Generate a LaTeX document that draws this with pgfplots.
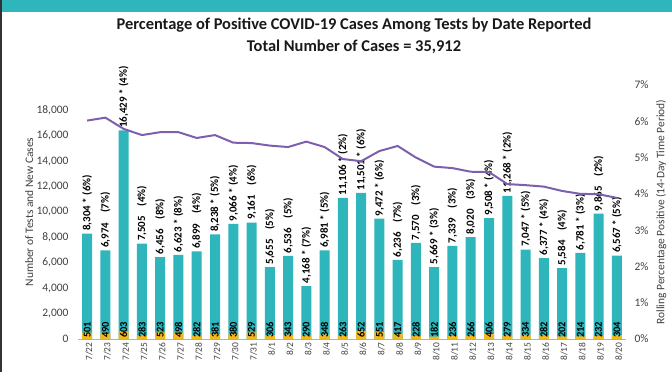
\documentclass[border=0pt]{standalone}
\usepackage{fontspec}
\setmainfont{Carlito}
\usepackage{pgfplots}
\pgfplotsset{compat=1.18}
\usepackage{pgfplotstable}
\pgfplotsset{/pgf/number format/assume math mode=true}

\definecolor{teal1}{HTML}{2FB5BC}
\definecolor{gold1}{HTML}{F4B71E}
\definecolor{purp}{HTML}{7E5FAE}
\definecolor{txt}{HTML}{404040}

\newcommand{\gap}{\hspace{0.9em}}

\pgfplotstableread[col sep=semicolon, row sep=\\]{
x;tests;new;pct;lab\\
0;8304;501;6.02;8,304 * (6\%)\\
1;6974;490;6.10;6,974\gap(7\%)\\
2;16429;603;5.79;16,429 * (4\%)\\
3;7505;283;5.62;7,505\gap(4\%)\\
4;6456;523;5.70;6,456\gap(8\%)\\
5;6623;498;5.70;6,623 * (8\%)\\
6;6899;282;5.54;6,899\gap(4\%)\\
7;8238;381;5.62;8,238 * (5\%)\\
8;9066;380;5.41;9,066 * (4\%)\\
9;9161;529;5.40;9,161\gap(6\%)\\
10;5655;306;5.33;5,655\gap(5\%)\\
11;6536;343;5.29;6,536\gap(5\%)\\
12;4168;290;5.44;4,168 * (7\%)\\
13;6981;348;5.29;6,981 * (5\%)\\
14;11106;263;4.96;11,106 * (2\%)\\
15;11501;652;4.90;11,501 * (6\%)\\
16;9472;551;5.18;9,472 * (6\%)\\
17;6236;417;5.32;6,236\gap(7\%)\\
18;7570;228;5.00;7,570\gap(3\%)\\
19;5669;182;4.75;5,669 * (3\%)\\
20;7339;236;4.71;7,339\gap(3\%)\\
21;8020;266;4.61;8,020\gap(3\%)\\
22;9508;406;4.60;9,508 * (4\%)\\
23;11268;279;4.27;11,268 * (2\%)\\
24;7047;334;4.24;7,047 * (5\%)\\
25;6377;282;4.20;6,377 * (4\%)\\
26;5584;202;4.08;5,584\gap(4\%)\\
27;6781;214;4.00;6,781 * (3\%)\\
28;9865;232;3.99;9,865\gap(2\%)\\
29;6567;304;3.89;6,567 * (5\%)\\
}\data

\begin{document}
\begin{tikzpicture}
\begin{axis}[
  at={(0,0)}, anchor=south west,
  scale only axis, width=548bp, height=254bp,
  xmin=-0.5, xmax=29.5, ymin=0, ymax=20000,
  ytick={0,2000,...,18000},
  scaled y ticks=false,
  yticklabel={\pgfmathprintnumber[1000 sep={,}]{\tick}},
  xtick={0,...,29},
  xticklabels={7/22,7/23,7/24,7/25,7/26,7/27,7/28,7/29,7/30,7/31,8/1,8/2,8/3,8/4,8/5,8/6,8/7,8/8,8/9,8/10,8/11,8/12,8/13,8/14,8/15,8/16,8/17,8/18,8/19,8/20},
  axis x line*=bottom, axis y line*=left,
  x axis line style={draw=black!30, line width=0.8bp, -},
  y axis line style={draw=none},
  tick style={draw=none},
  yticklabel style={font=\fontsize{11.5}{11.5}\selectfont, text=txt, xshift=-6bp},
  xticklabel style={font=\fontsize{9.5}{9.5}\selectfont, text=txt, rotate=90, anchor=east, yshift=-2bp},
  ylabel={Number of Tests and New Cases},
  every axis y label/.style={at={(axis description cs:-0.089,0.5)}, rotate=90, anchor=center, font=\fontsize{11.5}{11.5}\selectfont, text=txt},
  clip=false,
]
\addplot[ybar, bar width=10bp, bar shift=0pt, fill=teal1, draw=none,
  nodes near coords, point meta=explicit symbolic,
  every node near coord/.style={rotate=90, anchor=west, font=\bfseries\fontsize{11}{11}\selectfont, inner sep=2.5bp, text=black}]
  table[x=x, y=tests, meta=lab]{\data};
\addplot[ybar, bar width=10bp, bar shift=0pt, fill=gold1, draw=none]
  table[x=x, y=new]{\data};
\addplot[only marks, mark=none,
  nodes near coords, point meta=explicit symbolic,
  every node near coord/.style={rotate=90, anchor=west, font=\bfseries\fontsize{10.5}{10.5}\selectfont, inner sep=1bp, text=black}]
  table[x=x, y expr=0, meta=new]{\data};
\end{axis}
\begin{axis}[
  at={(0,0)}, anchor=south west,
  scale only axis, width=548bp, height=254bp,
  xmin=-0.5, xmax=29.5, ymin=0, ymax=7,
  ytick={0,...,7},
  axis y line*=right, axis x line=none,
  y axis line style={draw=none},
  tick style={draw=none},
  yticklabel={\pgfmathprintnumber{\tick}\%},
  yticklabel style={font=\fontsize{11.5}{11.5}\selectfont, text=txt, xshift=5bp},
  ylabel={Rolling Percentage Positive (14-Day Time Period)},
  every axis y label/.style={at={(axis description cs:1.064,0.5)}, rotate=90, anchor=center, font=\fontsize{11.5}{11.5}\selectfont, text=txt},
  legend style={at={(0.47,-0.17)}, anchor=north, draw=none, fill=none, legend columns=3,
    font=\fontsize{12}{12}\selectfont, text=txt, /tikz/every even column/.append style={column sep=30bp}},
  clip=false,
]
\addlegendimage{area legend, fill=teal1, draw=none}
\addlegendentry{Reported Tests (\% New Cases)}
\addlegendimage{area legend, fill=gold1, draw=none}
\addlegendentry{New Cases}
\addplot[purp, line width=2bp, mark=none] table[x=x, y=pct]{\data};
\addlegendentry{Rolling Percentage}
\end{axis}
\fill[teal1] (-76bp,327bp) rectangle (594bp,339bp);
\fill[black!80] (-78bp,-40bp) rectangle (-76bp,339bp);
\node[font=\bfseries\fontsize{16.5}{16.5}\selectfont, text=black!90] at (276bp,314bp) {Percentage of Positive COVID-19 Cases Among Tests by Date Reported};
\node[font=\bfseries\fontsize{16.5}{16.5}\selectfont, text=black!90] at (276bp,292bp) {Total Number of Cases = 35,912};
\pgfresetboundingbox
\path[use as bounding box] (-78bp,-33bp) rectangle (594bp,339bp);
\end{tikzpicture}
\end{document}
